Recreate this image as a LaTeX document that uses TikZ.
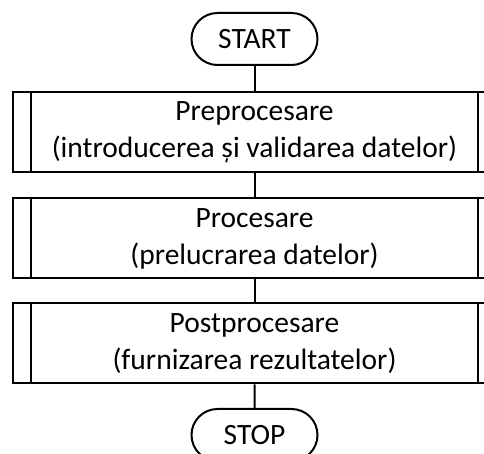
\documentclass[tikz,border=0pt]{standalone}
\usepackage{fontspec}
\setmainfont{Carlito}
\usetikzlibrary{shapes.misc}
\begin{document}
\begin{tikzpicture}[x=1pt,y=1pt,
  line width=2pt,
  every node/.style={font=\fontsize{29.5}{37}\selectfont},
  term/.style={draw, rounded rectangle, minimum width=126pt, minimum height=52pt, inner sep=0pt},
  proc/.style={draw, rectangle, minimum width=483pt, minimum height=80pt, inner sep=0pt, align=center},
  conn/.style={draw}]
\clip (0,0) rectangle (484,454);
\useasboundingbox (0,0) rectangle (484,454);
\node[term] (start) at (254.5,415) {START};
\node[proc] (p1) at (254.5,322) {Preprocesare\\(introducerea și validarea datelor)};
\node[proc] (p2) at (254.5,215.5) {Procesare\\(prelucrarea datelor)};
\node[proc] (p3) at (254.5,110.5) {Postprocesare\\(furnizarea rezultatelor)};
\node[term] (stop) at (254.5,19) {STOP};
\foreach \n in {p1,p2,p3}{
  \draw ([xshift=19pt]\n.north west) -- ([xshift=19pt]\n.south west);
  \draw ([xshift=-19pt]\n.north east) -- ([xshift=-19pt]\n.south east);
}
\draw[conn] (start) -- (p1);
\draw[conn] (p1) -- (p2);
\draw[conn] (p2) -- (p3);
\draw[conn] (p3) -- (stop);
\end{tikzpicture}
\end{document}
